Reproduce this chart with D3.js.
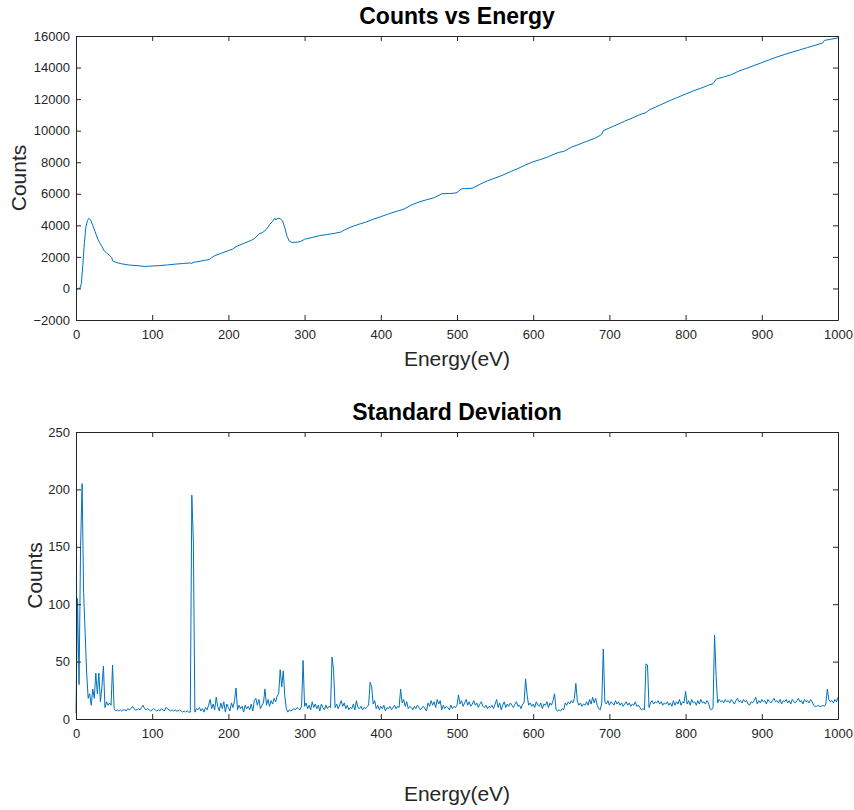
<!DOCTYPE html>
<html>
<head>
<meta charset="utf-8">
<script src="https://cdn.jsdelivr.net/npm/d3@7"></script>
<style>
  html, body { margin: 0; padding: 0; background: #fff; }
  text { font-family: "Liberation Sans", Arial, Helvetica, sans-serif; }
</style>
</head>
<body>
<div id="chart"></div>
<script>
// counts vs energy (top panel)
const countEnergy = [0, 3, 5, 7, 9, 11, 13, 15, 17, 19, 22, 25, 28, 31, 34, 37, 40, 44, 47, 48, 50, 55, 60, 70, 80, 90,
  100, 110, 120, 130, 140, 150, 152, 153, 160, 170, 175, 178, 182, 190, 200, 205, 210, 220, 230, 234, 240, 245, 250,
  254, 258, 261, 262, 265, 268, 271, 274, 277, 280, 283, 290, 295, 300, 310, 320, 330, 340, 348, 352, 360, 370, 380,
  390, 400, 410, 420, 425, 430, 440, 450, 460, 470, 480, 490, 495, 500, 505, 510, 520, 530, 540, 550, 560, 570, 580,
  590, 600, 610, 620, 630, 635, 640, 650, 660, 670, 680, 688, 690, 692, 700, 710, 720, 730, 740, 748, 752, 760, 770,
  780, 790, 800, 810, 820, 830, 836, 840, 842, 850, 860, 870, 880, 890, 900, 910, 920, 930, 940, 950, 960, 970, 980,
  982, 990, 1000];
const countValues = [-100, 0, 0, 300, 1500, 2900, 3900, 4300, 4450, 4350, 4000, 3600, 3200, 2900, 2650, 2400, 2250,
  2100, 1950, 1750, 1700, 1620, 1560, 1480, 1450, 1390,
  1420, 1450, 1490, 1540, 1580, 1620, 1560, 1650, 1700, 1790, 1830, 1950, 2080, 2220, 2400, 2480, 2650, 2850, 3050,
  3150, 3450, 3550, 3750, 4050, 4250, 4450, 4350, 4450, 4420, 4300, 3850, 3300, 3000, 2920, 2930, 2980, 3120, 3230,
  3350, 3420, 3500, 3580, 3700, 3880, 4050, 4200, 4380, 4550, 4720, 4880, 4950, 5020, 5280, 5480, 5620, 5750, 6000,
  6020, 6030, 6070, 6300, 6330, 6350, 6600, 6820, 7000, 7180, 7400, 7600, 7830, 8030, 8180, 8350, 8560, 8640, 8680,
  8950, 9130, 9320, 9500, 9700, 9780, 10000, 10170, 10380, 10600, 10800, 11020, 11140, 11310, 11480, 11700, 11920,
  12120, 12320, 12520, 12690, 12880, 12980, 13250, 13300, 13400, 13550, 13780, 13950, 14130, 14310, 14500, 14670,
  14830, 14980, 15120, 15270, 15410, 15560, 15720, 15790, 15880];

// standard deviation (bottom panel), one value every sdStep eV from 0 to 1000
const sdStep = 2;
const sdValues = [
  5, 105, 30, 150, 205, 110, 75, 40, 18, 22,      // 0
  12, 26, 18, 40, 22, 40, 15, 28, 46, 10,
  15, 12, 14, 12, 47, 9, 7, 8, 7, 8,
  7, 8, 8, 7, 9, 8, 9, 11, 9, 8,
  8, 9, 8, 10, 12, 9, 8, 9, 8, 7,
  8, 9, 8, 7, 8, 7, 9, 8, 7, 10,                  // 100
  9, 8, 7, 8, 7, 8, 7, 7, 8, 7,
  6, 7, 6, 7, 6, 6, 195, 155, 6, 9,
  8, 10, 7, 9, 6, 10, 8, 12, 17, 9,
  13, 8, 19, 11, 7, 14, 9, 15, 6, 13,
  10, 7, 14, 10, 16, 27, 8, 12, 9, 11,            // 200
  6, 12, 9, 11, 8, 13, 7, 16, 18, 12,
  17, 9, 12, 14, 26, 12, 17, 11, 16, 13,
  18, 15, 20, 22, 43, 28, 42, 20, 9, 6,
  8, 7, 8, 9, 8, 10, 9, 8, 11, 51,
  11, 14, 9, 12, 8, 15, 10, 13, 9, 12,            // 300
  7, 13, 10, 8, 12, 9, 11, 10, 54, 43,
  10, 13, 9, 12, 16, 11, 14, 9, 12, 8,
  10, 9, 13, 8, 16, 10, 9, 11, 8, 10,
  9, 11, 12, 32, 28, 13, 16, 9, 12, 8,
  11, 9, 12, 7, 10, 9, 11, 8, 10, 12,             // 400
  9, 11, 10, 26, 14, 17, 11, 15, 9, 11,
  10, 8, 11, 9, 12, 10, 8, 10, 11, 9,
  7, 14, 11, 16, 12, 15, 10, 17, 13, 16,
  8, 12, 9, 11, 10, 8, 12, 9, 11, 10,
  12, 21, 13, 16, 11, 14, 17, 12, 15, 11,         // 500
  13, 16, 12, 14, 10, 13, 15, 11, 10, 12,
  9, 11, 10, 12, 9, 13, 17, 10, 14, 8,
  12, 15, 10, 13, 11, 14, 12, 10, 13, 15,
  11, 12, 9, 13, 14, 35, 21, 12, 14, 11,
  13, 10, 15, 12, 11, 14, 9, 13, 12, 15,          // 600
  10, 14, 12, 16, 22, 8, 7, 8, 7, 9,
  8, 14, 12, 15, 13, 16, 14, 18, 31, 15,
  12, 14, 11, 13, 12, 15, 12, 17, 13, 19,
  14, 18, 12, 9, 8, 14, 61, 15, 13, 16,
  12, 15, 14, 12, 16, 13, 15, 12, 14, 11,         // 700
  13, 15, 12, 14, 11, 13, 12, 15, 11, 12,
  10, 8, 9, 8, 48, 47, 10, 14, 16, 13,
  15, 14, 16, 13, 15, 12, 14, 13, 15, 12,
  14, 11, 16, 12, 15, 13, 17, 12, 15, 14,
  24, 13, 16, 12, 17, 14, 15, 12, 16, 13,         // 800
  17, 14, 15, 13, 16, 14, 9, 8, 10, 73,
  38, 14, 17, 15, 16, 14, 17, 15, 16, 14,
  17, 15, 13, 16, 18, 15, 16, 14, 17, 15,
  16, 13, 12, 15, 14, 16, 19, 13, 16, 14,
  17, 15, 16, 13, 17, 15, 14, 16, 18, 15,         // 900
  16, 14, 17, 13, 16, 15, 17, 14, 16, 13,
  17, 15, 14, 16, 18, 15, 16, 13, 17, 15,
  16, 14, 17, 15, 12, 11, 11, 12, 11, 11,
  12, 11, 13, 26, 17, 15, 16, 14, 17, 15,
  19                                              // 1000
];

const energyTicks = [0, 100, 200, 300, 400, 500, 600, 700, 800, 900, 1000];
const countTicks = [-2000, 0, 2000, 4000, 6000, 8000, 10000, 12000, 14000, 16000];
const sdTicks = [0, 50, 100, 150, 200, 250];

const W = 854, H = 810;
const axisColor = '#262626';
const lineColor = '#0072BD';
const plain = d3.format('d');

const svg = d3.select('#chart').append('svg')
  .attr('width', W)
  .attr('height', H);

function drawPanel(opts) {
  const {left, right, top, bottom} = opts.box;

  const x = d3.scaleLinear().domain([0, 1000]).range([left, right]);
  const y = d3.scaleLinear().domain(opts.yDomain).range([bottom, top]);

  const g = svg.append('g');

  // line first, axes drawn over it
  g.append('path')
    .datum(opts.points)
    .attr('fill', 'none')
    .attr('stroke', lineColor)
    .attr('stroke-width', 1)
    .attr('stroke-linejoin', 'round')
    .attr('d', d3.line().x(d => x(d[0])).y(d => y(d[1])));

  const styleAxis = sel => {
    sel.selectAll('path, line').attr('stroke', axisColor).attr('stroke-width', 1);
    sel.selectAll('text')
      .attr('fill', axisColor)
      .style('font-size', '13px')
      .style('font-family', '"Liberation Sans", Arial, sans-serif');
  };

  g.append('g')
    .attr('transform', `translate(0,${bottom})`)
    .call(d3.axisBottom(x).tickValues(energyTicks).tickFormat(plain)
      .tickSizeInner(-5).tickSizeOuter(0).tickPadding(10))
    .call(styleAxis);

  g.append('g')
    .attr('transform', `translate(0,${top})`)
    .call(d3.axisTop(x).tickValues(energyTicks).tickSizeInner(-5).tickSizeOuter(0).tickFormat(''))
    .call(styleAxis);

  g.append('g')
    .attr('transform', `translate(${left},0)`)
    .call(d3.axisLeft(y).tickValues(opts.yTicks).tickFormat(plain)
      .tickSizeInner(-5).tickSizeOuter(0).tickPadding(6))
    .call(styleAxis);

  g.append('g')
    .attr('transform', `translate(${right},0)`)
    .call(d3.axisRight(y).tickValues(opts.yTicks).tickSizeInner(-5).tickSizeOuter(0).tickFormat(''))
    .call(styleAxis);

  g.append('text')
    .attr('x', (left + right) / 2)
    .attr('y', opts.titleY)
    .attr('text-anchor', 'middle')
    .style('font-size', '23px')
    .style('font-weight', 'bold')
    .attr('fill', '#000')
    .text(opts.title);

  g.append('text')
    .attr('x', (left + right) / 2)
    .attr('y', opts.xLabelY)
    .attr('text-anchor', 'middle')
    .style('font-size', '21px')
    .attr('fill', axisColor)
    .text('Energy(eV)');

  g.append('text')
    .attr('transform', `translate(${opts.yLabelX},${(top + bottom) / 2}) rotate(-90)`)
    .attr('text-anchor', 'middle')
    .style('font-size', '21px')
    .attr('fill', axisColor)
    .text('Counts');
}

drawPanel({
  box: {left: 76, right: 838, top: 36, bottom: 320},
  yDomain: [-2000, 16000],
  yTicks: countTicks,
  points: countEnergy.map((e, i) => [e, countValues[i]]),
  title: 'Counts vs Energy',
  titleY: 24,
  xLabelY: 366,
  yLabelX: 26
});

drawPanel({
  box: {left: 76, right: 838, top: 432, bottom: 719},
  yDomain: [0, 250],
  yTicks: sdTicks,
  points: sdValues.map((v, i) => [i * sdStep, v]),
  title: 'Standard Deviation',
  titleY: 420,
  xLabelY: 801,
  yLabelX: 42
});
</script>
</body>
</html>
